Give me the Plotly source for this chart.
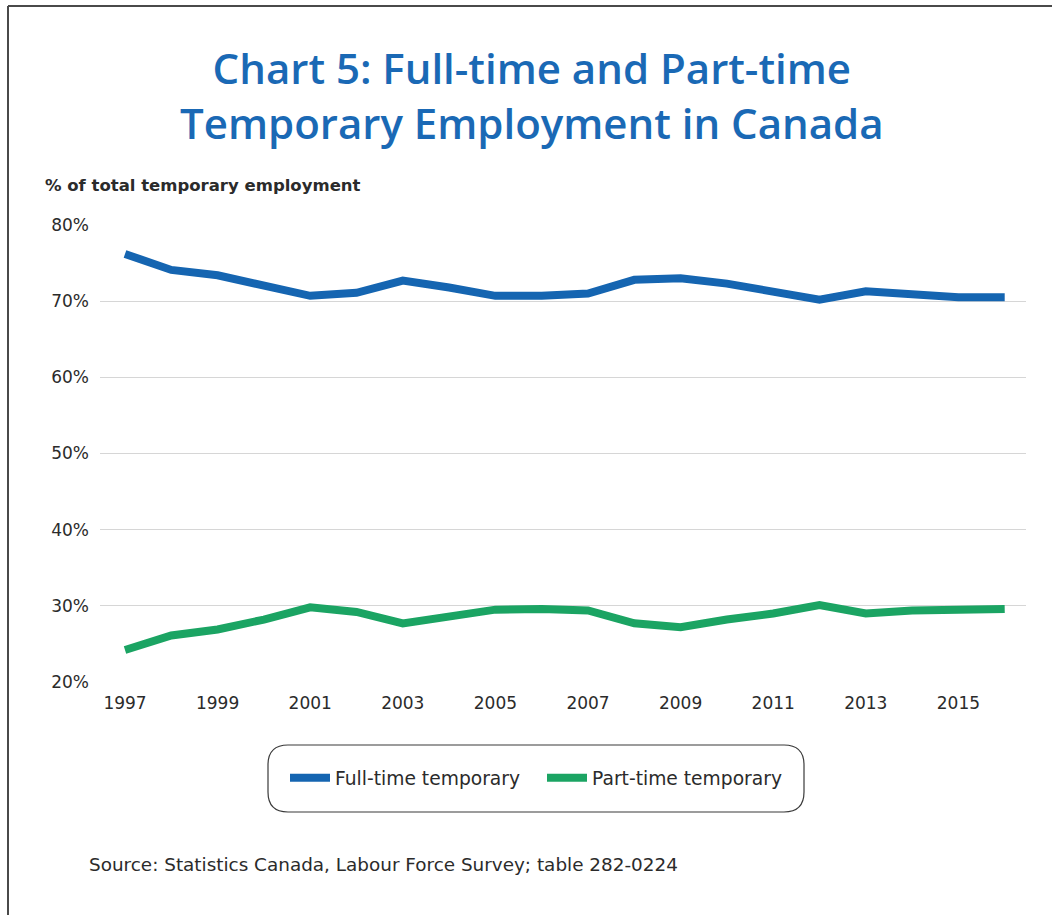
import plotly.graph_objects as go

# Share of total temporary employment in Canada, by work schedule (%)
years = list(range(1997, 2017))
full_time = [76.2, 74.1, 73.4, 72.1, 70.7, 71.1, 72.7, 71.8, 70.7, 70.7,
             71.0, 72.8, 73.0, 72.3, 71.3, 70.2, 71.3, 71.0, 70.5, 70.5]
part_time = [24.2, 26.1, 26.9, 28.2, 29.8, 29.2, 27.7, 28.5, 29.5, 29.6,
             29.4, 27.7, 27.2, 28.2, 29.0, 30.1, 29.0, 29.4, 29.6, 29.6]

y_ticks = [20, 30, 40, 50, 60, 70, 80]
y_tick_labels = [f"{v}%" for v in y_ticks]
x_ticks = list(range(1997, 2017, 2))

title_lines = ["Chart 5: Full-time and Part-time", "Temporary Employment in Canada"]

BLUE = "#1565b1"
GREEN = "#1ba463"
TITLE_BLUE = "#1a69b5"
TEXT = "#2b2b2b"
GRID = "#d6d6d6"
BODY_FONT = "DejaVu Sans"

W, H = 1052, 915
L, R, T, B = 100, 26, 225, 233
PW, PH = W - L - R, H - T - B


def px(x):
    """Page pixel x -> paper coordinate."""
    return (x - L) / PW


def py(y):
    """Page pixel y -> paper coordinate."""
    return (H - B - y) / PH


fig = go.Figure()
fig.add_trace(go.Scatter(x=years, y=full_time, mode="lines", name="Full-time temporary",
                         line=dict(color=BLUE, width=8)))
fig.add_trace(go.Scatter(x=years, y=part_time, mode="lines", name="Part-time temporary",
                         line=dict(color=GREEN, width=8)))

# Rounded frame around the legend
lx0, lx1, ly0, ly1, rad = 268, 804, 745, 812, 20
frame = (f"M {px(lx0 + rad)},{py(ly0)} L {px(lx1 - rad)},{py(ly0)} "
         f"Q {px(lx1)},{py(ly0)} {px(lx1)},{py(ly0 + rad)} "
         f"L {px(lx1)},{py(ly1 - rad)} "
         f"Q {px(lx1)},{py(ly1)} {px(lx1 - rad)},{py(ly1)} "
         f"L {px(lx0 + rad)},{py(ly1)} "
         f"Q {px(lx0)},{py(ly1)} {px(lx0)},{py(ly1 - rad)} "
         f"L {px(lx0)},{py(ly0 + rad)} "
         f"Q {px(lx0)},{py(ly0)} {px(lx0 + rad)},{py(ly0)} Z")

shapes = [
    dict(type="path", xref="paper", yref="paper", path=frame,
         line=dict(color="#3a3a3a", width=1.2), fillcolor="rgba(0,0,0,0)"),
    # page border (top and left)
    dict(type="line", xref="paper", yref="paper", x0=px(8), x1=px(W + 5), y0=py(6), y1=py(6),
         line=dict(color="#4a4a4a", width=2)),
    dict(type="line", xref="paper", yref="paper", x0=px(8), x1=px(8), y0=py(6), y1=py(H + 5),
         line=dict(color="#4a4a4a", width=2)),
]

annotations = [
    dict(text="<br>".join(title_lines),
         xref="paper", yref="paper", x=px(532), y=py(95), xanchor="center", yanchor="middle",
         showarrow=False,
         font=dict(family="Open Sans", size=42, weight=600, color=TITLE_BLUE)),
    dict(text="<b>% of total temporary employment</b>",
         xref="paper", yref="paper", x=px(43), y=py(185), xanchor="left", yanchor="middle",
         showarrow=False, font=dict(family=BODY_FONT, size=16.5, color=TEXT)),
    dict(text="Source: Statistics Canada, Labour Force Survey; table 282-0224",
         xref="paper", yref="paper", x=px(87), y=py(864), xanchor="left", yanchor="middle",
         showarrow=False, font=dict(family=BODY_FONT, size=18.4, color=TEXT)),
]

fig.update_layout(
    width=W, height=H,
    margin=dict(l=L, r=R, t=T, b=B),
    paper_bgcolor="white", plot_bgcolor="white",
    font=dict(family=BODY_FONT, size=17, color=TEXT),
    showlegend=True,
    legend=dict(orientation="h", x=px(285), y=py(778), xanchor="left", yanchor="middle",
                font=dict(family=BODY_FONT, size=18.7, color=TEXT),
                bgcolor="rgba(0,0,0,0)", itemwidth=40, tracegroupgap=0,
                entrywidth=202, entrywidthmode="pixels"),
    shapes=shapes,
    annotations=annotations,
    xaxis=dict(range=[1996.46, 2016.46], tickvals=x_ticks, ticktext=[str(v) for v in x_ticks],
               showgrid=False, zeroline=False, showline=False, ticks="",
               ticklabelstandoff=9, tickfont=dict(size=17, color=TEXT)),
    yaxis=dict(range=[20, 80], tickvals=y_ticks, ticktext=y_tick_labels,
               showgrid=True, gridcolor=GRID, gridwidth=1.2, zeroline=False, showline=False,
               ticks="", ticklabelstandoff=10, tickfont=dict(size=17, color=TEXT)),
)

fig.write_html("out.html")
